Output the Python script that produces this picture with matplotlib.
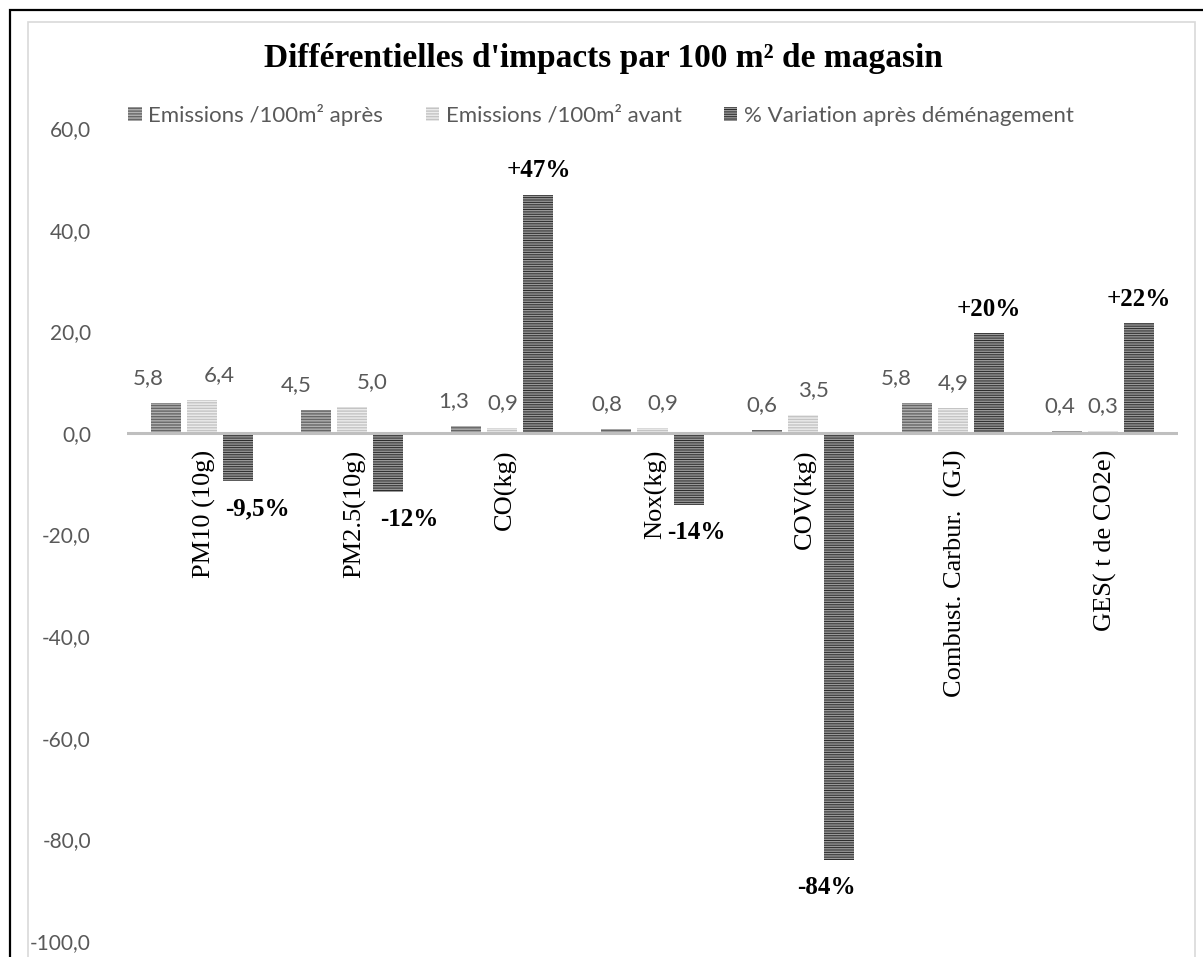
import matplotlib

matplotlib.use("Agg")
import matplotlib.pyplot as plt  # noqa: E402
from matplotlib.patches import Rectangle  # noqa: E402
from matplotlib.ticker import FuncFormatter  # noqa: E402
import numpy as np  # noqa: E402

# données
categories = ["PM10 (10g)", "PM2.5(10g)", "CO(kg)", "Nox(kg)", "COV(kg)",
              "Combust. Carbur.  (GJ)", "GES( t de CO2e)"]
emis_apres = [5.8, 4.5, 1.3, 0.8, 0.6, 5.8, 0.4]
emis_avant = [6.4, 5.0, 0.9, 0.9, 3.5, 4.9, 0.3]
variation = [-9.5, -11.6, 46.9, -14.2, -84.0, 19.7, 21.7]
variation_labels = ["-9,5%", "-12%", "+47%", "-14%", "-84%", "+20%", "+22%"]
series_names = ["Emissions /100m² après", "Emissions /100m² avant",
                "% Variation après déménagement"]

# mise en forme
SANS = ["Lato", "DejaVu Sans"]
SERIF = ["Liberation Serif", "DejaVu Serif"]
GREY_TXT = "#595959"
plt.rcParams["font.family"] = SANS
plt.rcParams["hatch.linewidth"] = 1.0

W, H, DPI = 1203, 957, 100
fig = plt.figure(figsize=(W / DPI, H / DPI), dpi=DPI)

# cadres (noir extérieur, gris intérieur)
fig.patches.append(Rectangle((10 / W, -0.1), 1.2, 1 - 10 / H + 0.1, transform=fig.transFigure,
                             fill=False, edgecolor="black", linewidth=1.6))
fig.patches.append(Rectangle((28 / W, -0.1), (1195 - 28) / W, 1 - 22 / H + 0.1,
                             transform=fig.transFigure, fill=False,
                             edgecolor="#d9d9d9", linewidth=1.2))

left, right, top, bottom = 127, 1178, 128, 941
ax = fig.add_axes([left / W, 1 - bottom / H, (right - left) / W, (bottom - top) / H])

x = np.arange(len(categories))
bw = 0.2
off = 0.24
styles = [
    dict(facecolor="#666666", edgecolor="#b0b0b0", hatch="------"),
    dict(facecolor="#c4c4c4", edgecolor="#ececec", hatch="------"),
    dict(facecolor="#2a2a2a", edgecolor="#9a9a9a", hatch="-------"),
]
b1 = ax.bar(x - off, emis_apres, bw, linewidth=0, label=series_names[0], **styles[0])
b2 = ax.bar(x, emis_avant, bw, linewidth=0, label=series_names[1], **styles[1])
b3 = ax.bar(x + off, variation, bw, linewidth=0, label=series_names[2], **styles[2])

ax.axhline(0, color="#bfbfbf", linewidth=2.2, zorder=3)
ax.set_xlim(-0.5, len(categories) - 0.5)
ax.set_ylim(-100, 60)
ax.set_yticks(np.arange(-100, 61, 20))
ax.yaxis.set_major_formatter(FuncFormatter(lambda v, _: f"{v:.1f}".replace(".", ",")))
ax.tick_params(axis="y", length=0, pad=26, labelsize=15, labelcolor=GREY_TXT)
ax.set_xticks([])
for s in ax.spines.values():
    s.set_visible(False)

# étiquettes des émissions (décalage horizontal en px, comme l'original)
dx_apres = [-18, -20, -13, -10, -5, -20, -7]
dx_avant = [17, 20, 0, 10, 11, 0, 0]
for bars, vals, dxs in ((b1, emis_apres, dx_apres), (b2, emis_avant, dx_avant)):
    for bar, v, dx in zip(bars, vals, dxs):
        ax.annotate(f"{v:.1f}".replace(".", ","),
                    (bar.get_x() + bar.get_width() / 2, bar.get_height()),
                    xytext=(dx * 0.72, 18), textcoords="offset points",
                    ha="center", va="center", fontsize=16, color=GREY_TXT)

# étiquettes des variations
dx_var = [19, 21, 0, 8, -12, 0, 0]
for bar, v, lab, dx in zip(b3, variation, variation_labels, dx_var):
    dy = 17 if v > 0 else -20
    ax.annotate(lab, (bar.get_x() + bar.get_width() / 2, v),
                xytext=(dx * 0.72, dy), textcoords="offset points",
                ha="center", va="center", fontsize=18, fontweight="bold",
                family=SERIF, color="black")

# noms des catégories, verticaux sous l'axe
for xi, name in zip(x, categories):
    ax.annotate(name, (xi, 0), xytext=(2, -12), textcoords="offset points",
                rotation=90, ha="center", va="top", fontsize=19,
                family=SERIF, color="black")

fig.text(603 / W, 1 - 58 / H, "Différentielles d'impacts par 100 m² de magasin",
         ha="center", va="center", fontsize=24, fontweight="bold", family=SERIF)

fig.legend(handles=[b1, b2, b3], loc="center", bbox_to_anchor=(601 / W, 1 - 115 / H),
           ncol=3, frameon=False, fontsize=16, labelcolor=GREY_TXT,
           handlelength=0.6, handleheight=0.6, handletextpad=0.3, columnspacing=1.9)

fig.savefig("out.png", dpi=DPI)
